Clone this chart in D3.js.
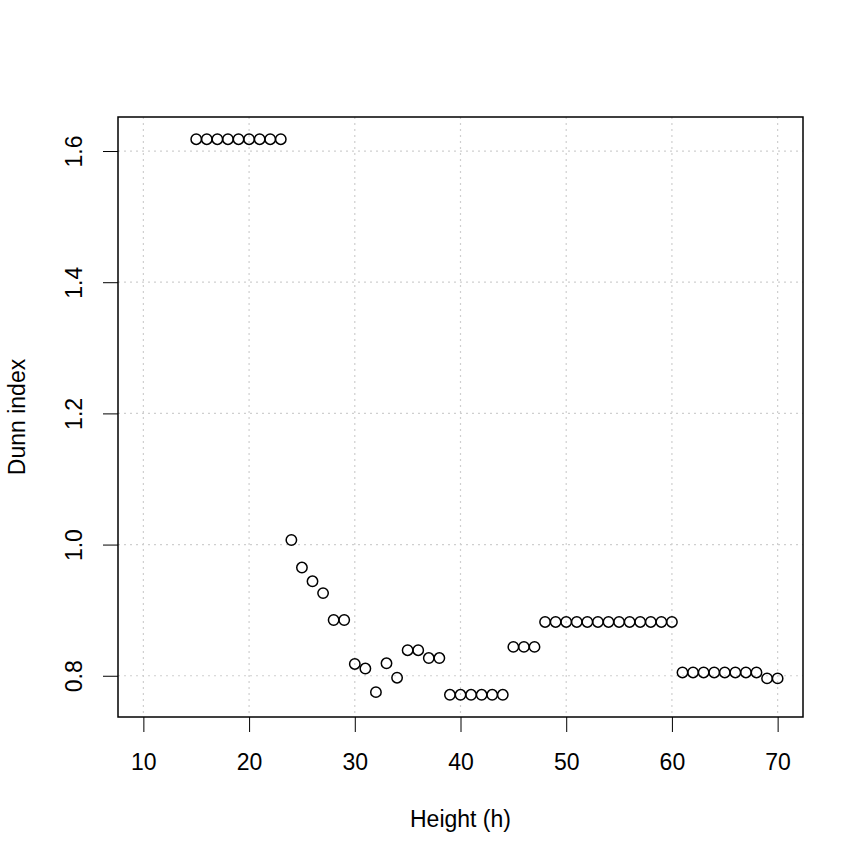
<!DOCTYPE html>
<html>
<head>
<meta charset="utf-8">
<script src="https://cdn.jsdelivr.net/npm/d3@7"></script>
<style>
  body { margin: 0; background: #fff; }
  text { font-family: "Liberation Sans", Arial, Helvetica, sans-serif; fill: #000; }
</style>
</head>
<body>
<div id="chart"></div>
<script>
// cut height h and Dunn index
var heights = [15, 16, 17, 18, 19, 20, 21, 22, 23, 24, 25, 26, 27, 28, 29, 30, 31, 32, 33, 34,
  35, 36, 37, 38, 39, 40, 41, 42, 43, 44, 45, 46, 47, 48, 49, 50, 51, 52, 53, 54,
  55, 56, 57, 58, 59, 60, 61, 62, 63, 64, 65, 66, 67, 68, 69, 70];
var dunn = [1.618, 1.618, 1.618, 1.618, 1.618, 1.618, 1.618, 1.618, 1.618, 1.007,
  0.965, 0.944, 0.926, 0.885, 0.885, 0.818, 0.811, 0.775, 0.819, 0.797,
  0.839, 0.839, 0.827, 0.827, 0.771, 0.771, 0.771, 0.771, 0.771, 0.771,
  0.844, 0.844, 0.844, 0.882, 0.882, 0.882, 0.882, 0.882, 0.882, 0.882,
  0.882, 0.882, 0.882, 0.882, 0.882, 0.882, 0.805, 0.805, 0.805, 0.805,
  0.805, 0.805, 0.805, 0.805, 0.796, 0.796];
var xTicks = [10, 20, 30, 40, 50, 60, 70];
var yTicks = [0.8, 1.0, 1.2, 1.4, 1.6];

var data = heights.map(function(h, i) { return {h: h, d: dunn[i]}; });

var svgWidth = 864, svgHeight = 864;
var plotLeft = 118, plotRight = 803, plotTop = 117, plotBottom = 717;
var fontSize = 23;

var svg = d3.select('#chart').append('svg')
  .attr('width', svgWidth)
  .attr('height', svgHeight);

// R style 4% padding on the ranges
var xr = [10, 70];
var yr = d3.extent(dunn);
var xPad = (xr[1] - xr[0]) * 0.04, yPad = (yr[1] - yr[0]) * 0.04;

var xScale = d3.scaleLinear().domain([xr[0] - xPad, xr[1] + xPad]).range([plotLeft, plotRight]);
var yScale = d3.scaleLinear().domain([yr[0] - yPad, yr[1] + yPad]).range([plotBottom, plotTop]);

// grid
var grid = svg.append('g')
  .attr('stroke', '#cfcfcf')
  .attr('stroke-width', 1.2)
  .attr('stroke-dasharray', '2 4');
grid.selectAll('.gx').data(xTicks).enter().append('line')
  .attr('x1', function(d) { return xScale(d); })
  .attr('x2', function(d) { return xScale(d); })
  .attr('y1', plotTop).attr('y2', plotBottom);
grid.selectAll('.gy').data(yTicks).enter().append('line')
  .attr('y1', function(d) { return yScale(d); })
  .attr('y2', function(d) { return yScale(d); })
  .attr('x1', plotLeft).attr('x2', plotRight);

// x axis
var xAxis = svg.append('g')
  .attr('transform', 'translate(0,' + plotBottom + ')')
  .call(d3.axisBottom(xScale).tickValues(xTicks).tickSize(15).tickPadding(22).tickFormat(d3.format('d')));
xAxis.select('.domain').remove();
xAxis.selectAll('line').attr('stroke', '#000');
xAxis.selectAll('text').attr('font-size', fontSize).attr('font-family', null);

// y axis
var yAxis = svg.append('g')
  .attr('transform', 'translate(' + plotLeft + ',0)')
  .call(d3.axisLeft(yScale).tickValues(yTicks).tickSize(15).tickFormat(d3.format('.1f')));
yAxis.select('.domain').remove();
yAxis.selectAll('line').attr('stroke', '#000');
yAxis.selectAll('text')
  .attr('font-size', fontSize)
  .attr('font-family', null)
  .attr('x', 0)
  .attr('y', -36)
  .attr('dy', null)
  .attr('text-anchor', 'middle')
  .attr('transform', 'rotate(-90)');

// box
svg.append('rect')
  .attr('x', plotLeft).attr('y', plotTop)
  .attr('width', plotRight - plotLeft).attr('height', plotBottom - plotTop)
  .attr('fill', 'none').attr('stroke', '#000').attr('stroke-width', 1.5);

// points
svg.append('g')
  .selectAll('circle')
  .data(data)
  .enter()
  .append('circle')
  .attr('cx', function(d) { return xScale(d.h); })
  .attr('cy', function(d) { return yScale(d.d); })
  .attr('r', 5.2)
  .attr('fill', 'none')
  .attr('stroke', '#000')
  .attr('stroke-width', 1.5);

// axis titles
svg.append('text')
  .attr('x', (plotLeft + plotRight) / 2)
  .attr('y', 827)
  .attr('text-anchor', 'middle')
  .attr('font-size', fontSize)
  .text('Height (h)');

svg.append('text')
  .attr('transform', 'translate(25,' + ((plotTop + plotBottom) / 2) + ') rotate(-90)')
  .attr('text-anchor', 'middle')
  .attr('font-size', fontSize)
  .text('Dunn index');
</script>
</body>
</html>
